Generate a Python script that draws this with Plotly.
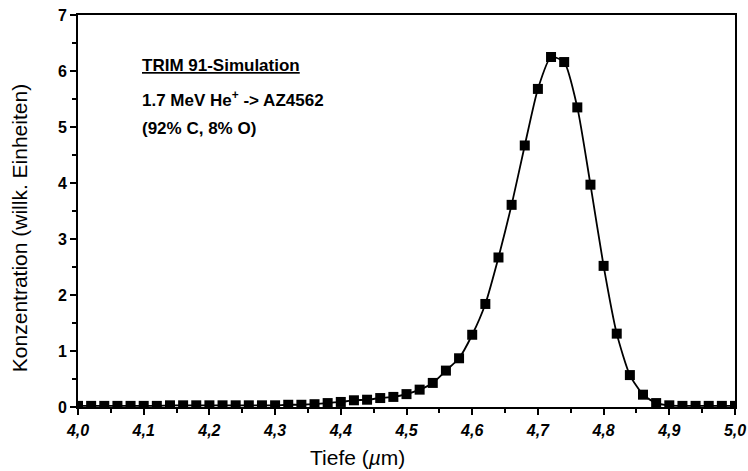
import plotly.graph_objects as go

depth = [4.00, 4.02, 4.04, 4.06, 4.08, 4.10, 4.12, 4.14, 4.16, 4.18,
         4.20, 4.22, 4.24, 4.26, 4.28, 4.30, 4.32, 4.34, 4.36, 4.38,
         4.40, 4.42, 4.44, 4.46, 4.48, 4.50, 4.52, 4.54, 4.56, 4.58,
         4.60, 4.62, 4.64, 4.66, 4.68, 4.70, 4.72, 4.74, 4.76, 4.78,
         4.80, 4.82, 4.84, 4.86, 4.88, 4.90, 4.92, 4.94, 4.96, 4.98, 5.00]
conc = [0.02, 0.02, 0.02, 0.02, 0.02, 0.02, 0.02, 0.03, 0.03, 0.03,
        0.03, 0.03, 0.03, 0.03, 0.03, 0.03, 0.04, 0.04, 0.05, 0.07,
        0.09, 0.12, 0.13, 0.16, 0.18, 0.23, 0.31, 0.43, 0.65, 0.87,
        1.29, 1.84, 2.67, 3.61, 4.67, 5.68, 6.25, 6.16, 5.35, 3.97,
        2.52, 1.31, 0.57, 0.22, 0.07, 0.03, 0.02, 0.02, 0.02, 0.02, 0.02]

x_ticks = [4.0, 4.1, 4.2, 4.3, 4.4, 4.5, 4.6, 4.7, 4.8, 4.9, 5.0]
x_tick_labels = ["4,0", "4,1", "4,2", "4,3", "4,4", "4,5", "4,6", "4,7", "4,8", "4,9", "5,0"]
y_ticks = [0, 1, 2, 3, 4, 5, 6, 7]

FONT = "Liberation Sans, Arial, sans-serif"

fig = go.Figure()
fig.add_trace(go.Scatter(
    x=depth, y=conc, mode="lines+markers",
    line=dict(color="black", width=1.8, shape="spline", smoothing=0.6),
    marker=dict(symbol="square", size=10, color="black"),
    showlegend=False,
))

fig.update_xaxes(
    range=[4.0, 5.0], tickvals=x_ticks, ticktext=[f"<b><i>{t}</i></b>" for t in x_tick_labels],
    showline=True, linecolor="black", linewidth=2, mirror=True,
    ticks="outside", ticklen=6, tickwidth=2, tickcolor="black",
    minor=dict(ticks="outside", dtick=0.05, tick0=4.0, ticklen=4, tickwidth=2, tickcolor="black"),
    showgrid=False, zeroline=False, automargin=False, ticklabelstandoff=2,
    tickfont=dict(family=FONT, size=16, color="black"),
)
fig.update_yaxes(
    range=[0, 7], tickvals=y_ticks, ticktext=[f"<b>{t}</b>" for t in y_ticks],
    showline=True, linecolor="black", linewidth=2, mirror=True,
    ticks="outside", ticklen=6, tickwidth=2, tickcolor="black",
    minor=dict(ticks="outside", dtick=0.5, tick0=0, ticklen=4, tickwidth=2, tickcolor="black"),
    showgrid=False, zeroline=False, automargin=False,
    tickfont=dict(family=FONT, size=16, color="black"),
)

title_font = dict(family=FONT, size=21, color="black")
fig.add_annotation(xref="paper", yref="paper", x=0.426, y=-0.128, xanchor="center", yanchor="middle",
                   text="Tiefe (<i>µ</i>m)", showarrow=False, font=title_font)
fig.add_annotation(xref="paper", yref="paper", x=-0.089, y=0.455, xanchor="center", yanchor="middle",
                   text="Konzentration (willk. Einheiten)", textangle=-90, showarrow=False, font=title_font)

ann_font = dict(family=FONT, size=17, color="black")
fig.add_annotation(xref="paper", yref="paper", x=0.095, y=0.87, xanchor="left", yanchor="middle",
                   text="<b><u>TRIM 91-Simulation</u></b>", showarrow=False, font=ann_font)
fig.add_annotation(xref="paper", yref="paper", x=0.095, y=0.785, xanchor="left", yanchor="middle",
                   text="<b>1.7 MeV He<sup>+</sup> -> AZ4562</b>", showarrow=False, font=ann_font)
fig.add_annotation(xref="paper", yref="paper", x=0.095, y=0.71, xanchor="left", yanchor="middle",
                   text="<b>(92% C, 8% O)</b>", showarrow=False, font=ann_font)

fig.update_layout(
    width=748, height=471,
    margin=dict(l=78, r=13, t=15, b=64),
    paper_bgcolor="white", plot_bgcolor="white",
    font=dict(family=FONT, color="black"),
)

fig.write_html("out.html")
